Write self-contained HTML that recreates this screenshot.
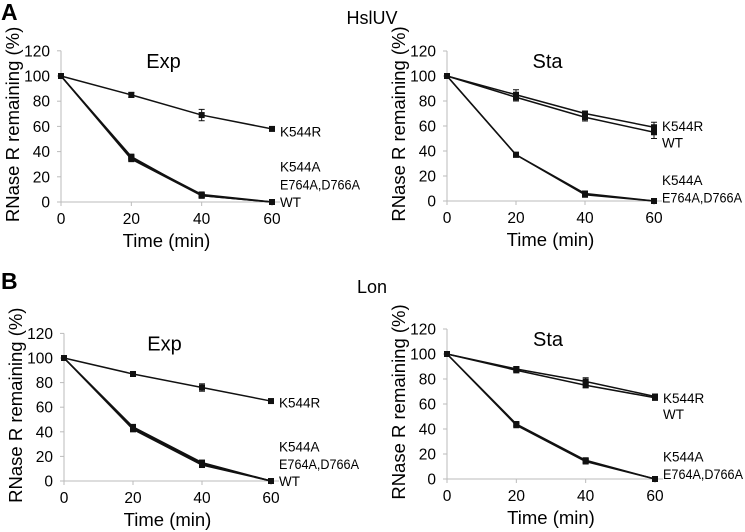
<!DOCTYPE html>
<html><head><meta charset="utf-8"><style>
body{margin:0;background:#fff;}
svg{display:block;font-family:"Liberation Sans",Arial,sans-serif;}
</style></head><body>
<svg id="fig" width="745" height="532" viewBox="0 0 745 532">
<text x="1" y="20" font-size="23" font-weight="bold">A</text>
<text x="372" y="24" font-size="18" text-anchor="middle">HslUV</text>
<text x="1" y="289" font-size="23" font-weight="bold">B</text>
<text x="372" y="293" font-size="18" text-anchor="middle">Lon</text>
</svg>
<script>
const times=[0,20,40,60];
const yTicks=[0,20,40,60,80,100,120];
const aExpK544R=[100,85,69,58], aExpK544Rerr=[0,2,4.5,1];
const aExpK544A=[100,36,5,0], aExpE764A=[100,35,6,0], aExpWT=[100,34,5,0];
const aStaK544R=[100,85,70,59], aStaK544Rerr=[0,4,2,4];
const aStaWT=[100,83,67,55], aStaWTerr=[0,3,3,5];
const aStaK544A=[100,37,6,0], aStaE764A=[100,37,5,0];
const bExpK544R=[100,87,76,65], bExpK544Rerr=[0,2,3,1.5];
const bExpK544A=[100,44,15,0], bExpE764A=[100,43,14,0], bExpWT=[100,42,13,0];
const bStaK544R=[100,88,78,66], bStaK544Rerr=[0,2,3,2];
const bStaWT=[100,87,75,65], bStaWTerr=[0,2,2,2];
const bStaK544A=[100,44,15,0], bStaE764A=[100,43,14,0];

const NS="http://www.w3.org/2000/svg";
const svg=document.getElementById('fig');
function mk(tag,attrs,parent){const e=document.createElementNS(NS,tag);for(const k in attrs)e.setAttribute(k,attrs[k]);(parent||svg).appendChild(e);return e;}

function panel(id,x0,x60,y0,y100,title,series,labels){
  const g=mk('g',{});
  
  
  const sx=t=>x0+(x60-x0)*t/60;
  const sy=v=>y0-(y0-y100)*v/100;
  const yaxis=mk('line',{x1:x0,x2:x0,y1:sy(120),y2:y0,stroke:'#bbb','stroke-width':1},g);
  
  
  const xaxis=mk('line',{x1:x0,x2:x60+8,y1:y0,y2:y0,stroke:'#bbb','stroke-width':1},g);
  
  
  yTicks.forEach(v=>{
    mk('line',{x1:x0-4,x2:x0,y1:sy(v),y2:sy(v),stroke:'#bbb'},g);
    const t=mk('text',{x:x0-11,y:sy(v)+5.5,'font-size':15.5,'text-anchor':'end'},g);t.textContent=v;
    
    
  });
  times.forEach(v=>{
    mk('line',{x1:sx(v),x2:sx(v),y1:y0,y2:y0+4,stroke:'#bbb'},g);
    const t=mk('text',{x:sx(v),y:y0+22,'font-size':15.5,'text-anchor':'middle'},g);t.textContent=v;
    
    
  });
  const xt=mk('text',{x:(x0+x60)/2,y:y0+45,'font-size':18.5,'text-anchor':'middle'},g);xt.textContent='Time (min)';
  
  
  const cy=(sy(120)+y0)/2-2;
  const yt=mk('text',{x:0,y:0,'font-size':18.5,'text-anchor':'middle',transform:`translate(${x0-42},${cy}) rotate(-90)`},g);yt.textContent='RNase R remaining (%)';
  
  
  const tt=mk('text',{x:(x0+x60)/2-3,y:sy(120)+17,'font-size':20,'text-anchor':'middle'},g);tt.textContent=title;
  
  
  series.forEach(s=>{
    const pts=times.map((t,i)=>sx(t)+','+sy(s.v[i])).join(' ');
    const pl=mk('polyline',{points:pts,fill:'none',stroke:'#111','stroke-width':1.5},g);
    
    
    times.forEach((t,i)=>{
      const e=s.e?s.e[i]:1.5;
      if(e>0){
        mk('line',{x1:sx(t),x2:sx(t),y1:sy(s.v[i]-e),y2:sy(s.v[i]+e),stroke:'#111'},g);
        mk('line',{x1:sx(t)-3,x2:sx(t)+3,y1:sy(s.v[i]-e),y2:sy(s.v[i]-e),stroke:'#111'},g);
        mk('line',{x1:sx(t)-3,x2:sx(t)+3,y1:sy(s.v[i]+e),y2:sy(s.v[i]+e),stroke:'#111'},g);
      }
      const m=mk('rect',{x:sx(t)-3,y:sy(s.v[i])-3,width:6,height:6,fill:'#111'},g);
      
      
    });
  });
  labels.forEach(l=>{
    const t=mk('text',{x:x60+8,y:sy(l[1])+5,'font-size':13.5},g);t.textContent=l[0];
    if(l[0].length>6){t.setAttribute('textLength',80);t.setAttribute('lengthAdjust','spacingAndGlyphs');}
    
    
  });
}
panel('a-exp',61,272,202,76,'Exp',[
  {n:'k544r',v:aExpK544R,e:aExpK544Rerr},{n:'k544a',v:aExpK544A},{n:'e764a-d766a',v:aExpE764A},{n:'wt',v:aExpWT}],
  [['K544R',56],['K544A',28],['E764A,D766A',14],['WT',0]]);
panel('a-sta',447,654,201,76,'Sta',[
  {n:'k544r',v:aStaK544R,e:aStaK544Rerr},{n:'wt',v:aStaWT,e:aStaWTerr},{n:'k544a',v:aStaK544A},{n:'e764a-d766a',v:aStaE764A}],
  [['K544R',60],['WT',47],['K544A',17],['E764A,D766A',3]]);
panel('b-exp',64,271,481,358,'Exp',[
  {n:'k544r',v:bExpK544R,e:bExpK544Rerr},{n:'k544a',v:bExpK544A},{n:'e764a-d766a',v:bExpE764A},{n:'wt',v:bExpWT}],
  [['K544R',64],['K544A',28],['E764A,D766A',14],['WT',0]]);
panel('b-sta',447,655,479,354,'Sta',[
  {n:'k544r',v:bStaK544R,e:bStaK544Rerr},{n:'wt',v:bStaWT,e:bStaWTerr},{n:'k544a',v:bStaK544A},{n:'e764a-d766a',v:bStaE764A}],
  [['K544R',65],['WT',52],['K544A',18],['E764A,D766A',4]]);
</script>
</body></html>
